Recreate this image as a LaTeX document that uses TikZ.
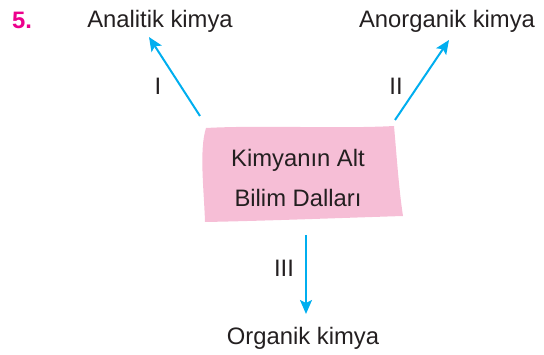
\documentclass[tikz,border=0pt]{standalone}
\usepackage{fontspec}
\setmainfont{Liberation Sans}
\usetikzlibrary{arrows.meta}
\definecolor{arrowcyan}{HTML}{00AEEF}
\definecolor{boxpink}{HTML}{F6BED6}
\definecolor{numpink}{HTML}{EC008C}
\definecolor{txt}{HTML}{231F20}
\tikzset{
  lbl/.style={anchor=base, inner sep=0pt, text=txt, font=\fontsize{23.8}{28}\selectfont},
  conn/.style={draw=arrowcyan, line width=2pt, -{Stealth[length=14pt,width=12pt,inset=3pt]}}
}
\begin{document}
\begin{tikzpicture}[x=1pt,y=-1pt]
\useasboundingbox (0,0) rectangle (544,355);
% box
\fill[boxpink] (206,128) .. controls (260,125) and (340,129) .. (394,126)
  .. controls (397,160) and (399,190) .. (403,216)
  .. controls (340,218) and (260,221) .. (205,222)
  .. controls (204,190) and (199,150) .. (206,128) -- cycle;
\node[lbl] (t1) at (298,167) {Kimyanın Alt};
\node[lbl] (t2) at (298,207) {Bilim Dalları};
\node[lbl, text=numpink, font=\fontsize{23.8}{28}\selectfont\bfseries] (num) at (22,29) {5.};
\node[lbl] (ana) at (160,28) {Analitik kimya};
\node[lbl] (ano) at (447,28) {Anorganik kimya};
\node[lbl] (org) at (303,345) {Organik kimya};
\node[lbl] (l1) at (158,95) {I};
\node[lbl] (l2) at (396,95) {II};
\node[lbl] (l3) at (284,277) {III};
\coordinate (s1) at (200,116);
\coordinate (e1) at (149,37);
\coordinate (s2) at (395,120);
\coordinate (e2) at (449,40);
\coordinate (s3) at (306,235);
\coordinate (e3) at (306,314);
\draw[conn] (s1) -- (e1);
\draw[conn] (s2) -- (e2);
\draw[conn] (s3) -- (e3);
\end{tikzpicture}
\end{document}
